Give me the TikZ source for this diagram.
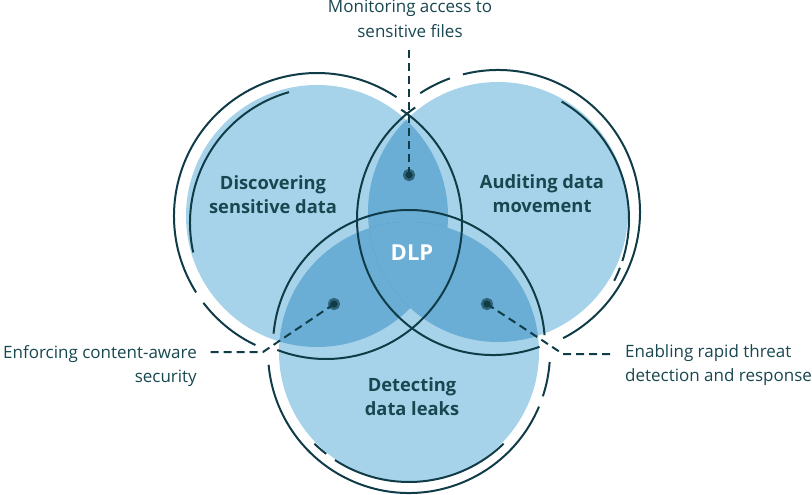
\documentclass[tikz,border=0pt]{standalone}
\usepackage{fontspec}
\setmainfont{Open Sans}
\usepackage{tikz}
\usetikzlibrary{positioning, calc}
\definecolor{dlplight}{RGB}{166, 211, 233}
\definecolor{dlpmid}{RGB}{106, 174, 214}
\definecolor{dlpdark}{RGB}{69, 145, 196}
\definecolor{dlpline}{RGB}{16, 60, 72}
\definecolor{dlptext}{RGB}{24, 71, 80}

\begin{document}
\begin{tikzpicture}[
    x=1pt, y=-1pt,
    every node/.style={text=dlptext},
    ring/.style={draw=dlpline, line width=2pt},
    rim/.style={draw=dlpline, line width=2pt},
    lead/.style={draw=dlpline, line width=2pt, dash pattern=on 8pt off 5pt},
    pin/.style={circle, inner sep=0pt, minimum size=7pt, fill=dlpline,
                draw=dlpline, draw opacity=0.4, line width=5pt},
    topic/.style={font=\fontsize{18.3}{24}\selectfont\bfseries, align=center},
    callout/.style={font=\fontsize{17}{24.5}\selectfont, inner sep=0pt}
  ]
  \useasboundingbox (0,0) rectangle (812,495);

  % Centres of discs, outlines and outer rings
  \coordinate (discL) at (317,216);
  \coordinate (discR) at (498,212);
  \coordinate (discB) at (409,352);
  \coordinate (rimL) at (326,223);
  \coordinate (rimR) at (493,219);
  \coordinate (rimB) at (409,346);

  % Discs
  \fill[dlplight] (discL) circle (131);
  \fill[dlplight] (discR) circle (130);
  \fill[dlplight] (discB) circle (130);

  % Overlaps
  \begin{scope}
    \clip (discL) circle (131);
    \fill[dlpmid] (discR) circle (130);
    \fill[dlpmid] (discB) circle (130);
    \clip (discR) circle (130);
    \fill[dlpdark] (discB) circle (130);
  \end{scope}
  \begin{scope}
    \clip (discR) circle (130);
    \fill[dlpmid] (discB) circle (130);
  \end{scope}

  % Outer rings (broken)
  \draw[ring] (discL) ++(147.7:143) arc[start angle=147.7, end angle=303.8, radius=143];
  \draw[ring] (discL) ++(115.5:143) arc[start angle=115.5, end angle=142.6, radius=143];
  \draw[ring] (discR) ++(236.8:142) arc[start angle=236.8, end angle=250.2, radius=142];
  \draw[ring] (discR) ++(255.7:142) arc[start angle=255.7, end angle=422.7, radius=142];
  \draw[ring] (discB) ++(4:141) arc[start angle=4, end angle=18.3, radius=141];
  \draw[ring] (discB) ++(22.8:141) arc[start angle=22.8, end angle=174.8, radius=141];

  % Inner outlines (broken)
  \draw[rim] (rimL) ++(167.5:136) arc[start angle=167.5, end angle=254.2, radius=136];
  \draw[rim] (rimL) ++(-56.4:136) arc[start angle=-56.4, end angle=111, radius=136];
  \draw[rim] (rimR) ++(300.3:136) arc[start angle=300.3, end angle=378, radius=136];
  \draw[rim] (rimR) ++(381:136) arc[start angle=381, end angle=387, radius=136];
  \draw[rim] (rimR) ++(70:136) arc[start angle=70, end angle=235.1, radius=136];
  \draw[rim] (rimB) ++(185.2:136) arc[start angle=185.2, end angle=355.4, radius=136];
  \draw[rim] (rimB) ++(45.9:136) arc[start angle=45.9, end angle=123, radius=136];
  \draw[rim] (rimB) ++(127.5:136) arc[start angle=127.5, end angle=134.1, radius=136];

  % Topics
  \node[topic] (discover) at (273,195) {Discovering\\sensitive data};
  \node[topic] (audit) at (542,194) {Auditing data\\movement};
  \node[topic] (detect) at (412,397) {Detecting\\data leaks};
  \node[font=\fontsize{22}{24}\selectfont\bfseries, text=white] (dlp) at (412,253) {DLP};

  % Callouts
  \node[callout, align=center] (lblTop) at (410,19) {Monitoring access to\\sensitive files};
  \node[callout, align=right, anchor=east] (lblLeft) at (197,366) {Enforcing content-aware\\security};
  \node[callout, align=left, anchor=west] (lblRight) at (625,365) {Enabling rapid threat\\detection and response};

  \coordinate (tipTop) at (409,50);
  \coordinate (kneeLeft) at (263,352);
  \coordinate (tipLeft) at (210,352);
  \coordinate (kneeRight) at (563,354);
  \coordinate (tipRight) at (612,354);

  \node[pin] (pinTop) at (409,175) {};
  \node[pin] (pinLeft) at (334,304) {};
  \node[pin] (pinRight) at (487,304) {};

  \draw[lead] (pinTop.center) -- (tipTop);
  \draw[lead] (pinLeft.center) -- (kneeLeft) -- (tipLeft);
  \draw[lead] (pinRight.center) -- (kneeRight) -- (tipRight);
  \node[pin] at (pinTop) {};
  \node[pin] at (pinLeft) {};
  \node[pin] at (pinRight) {};
\end{tikzpicture}
\end{document}
